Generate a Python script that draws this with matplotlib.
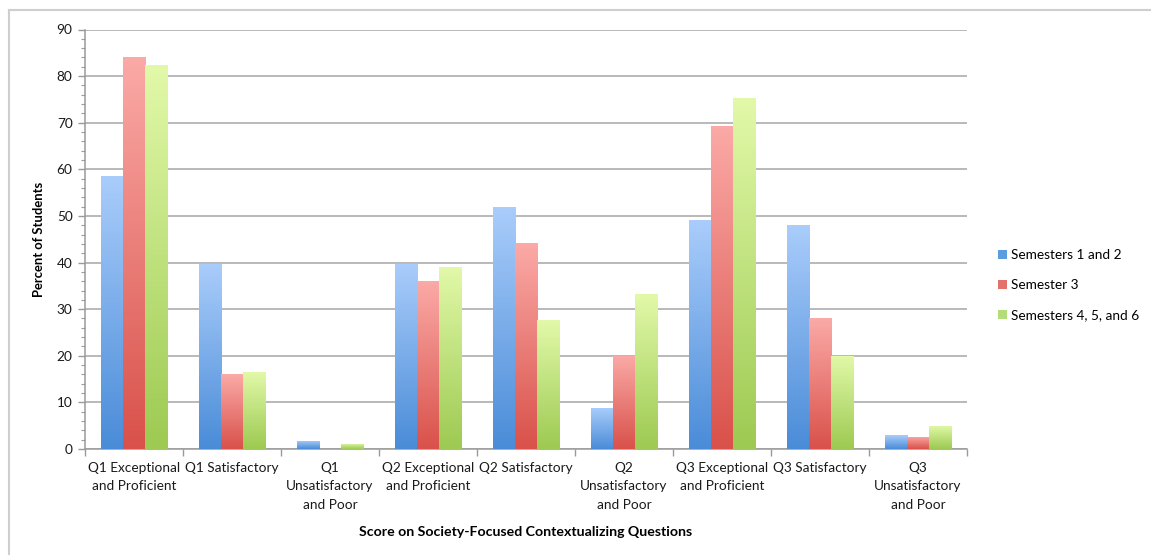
import numpy as np
import matplotlib
matplotlib.use("Agg")
import matplotlib.pyplot as plt
from matplotlib.colors import LinearSegmentedColormap
from matplotlib.lines import Line2D
from matplotlib.patches import Patch

plt.rcParams['font.family'] = ['Lato', 'DejaVu Sans']

categories = [
    "Q1 Exceptional\nand Proficient",
    "Q1 Satisfactory",
    "Q1\nUnsatisfactory\nand Poor",
    "Q2 Exceptional\nand Proficient",
    "Q2 Satisfactory",
    "Q2\nUnsatisfactory\nand Poor",
    "Q3 Exceptional\nand Proficient",
    "Q3 Satisfactory",
    "Q3\nUnsatisfactory\nand Poor",
]
series_names = ["Semesters 1 and 2", "Semester 3", "Semesters 4, 5, and 6"]
sem_1_2 = [58.6, 39.7, 1.8, 39.7, 52.0, 8.9, 49.1, 48.0, 3.0]
sem_3 = [84.0, 16.0, 0.0, 36.0, 44.1, 20.0, 69.4, 28.0, 2.6]
sem_4_5_6 = [82.3, 16.6, 1.1, 39.1, 27.6, 33.2, 75.3, 20.0, 5.0]
y_ticks = list(range(0, 91, 10))

series = [sem_1_2, sem_3, sem_4_5_6]
# (top colour, bottom colour) for each series' vertical gradient
gradients = [("#aacdfb", "#4a8cd8"), ("#fbaaa7", "#d9514a"), ("#e2f9a9", "#9dca52")]
legend_colors = ["#5b9be0", "#e4706b", "#b4dc78"]

fig = plt.figure(figsize=(11.51, 5.55), dpi=100)
ax = fig.add_axes([85 / 1151, 1 - 449 / 555, (967 - 85) / 1151, (449 - 29.5) / 555])

n = len(categories)
x = np.arange(n)
bar_w = 0.225
offsets = [-bar_w, 0.0, bar_w]

grad = np.linspace(0, 1, 256).reshape(-1, 1)
for vals, off, (top, bottom) in zip(series, offsets, gradients):
    cmap = LinearSegmentedColormap.from_list("g", [bottom, top])
    bars = ax.bar(x + off, vals, width=bar_w, color="none", edgecolor="none", zorder=3)
    for b in bars:
        h = b.get_height()
        if h <= 0:
            continue
        x0 = b.get_x()
        im = ax.imshow(grad, cmap=cmap, aspect="auto", origin="lower",
                       extent=[x0, x0 + b.get_width(), 0, h], zorder=3,
                       interpolation="bilinear")
        im.set_clip_path(b)

ax.set_xlim(-0.5, n - 0.5)
ax.set_ylim(0, 90)

ax.set_yticks(y_ticks)
ax.set_yticks(np.arange(0, 91, 2), minor=True)
ax.yaxis.grid(True, which="major", color="#b3b3b3", linewidth=1.3, zorder=0)
ax.set_axisbelow(True)

ax.set_xticks(x)
ax.set_xticklabels(categories, fontsize=9.8, linespacing=1.68, color="#1a1a1a")
ax.set_xticks(np.arange(-0.5, n, 1.0), minor=True)
ax.tick_params(axis="x", which="major", length=0, pad=9)
ax.tick_params(axis="x", which="minor", length=5, direction="out", color="#9a9a9a", width=1)
ax.tick_params(axis="y", which="major", length=5, direction="out", color="#9a9a9a",
               width=1, pad=4, labelsize=9.8, labelcolor="#1a1a1a")
ax.tick_params(axis="y", which="minor", length=3, direction="out", color="#9a9a9a", width=0.8)

for s in ["top", "right"]:
    ax.spines[s].set_visible(False)
for s in ["left", "bottom"]:
    ax.spines[s].set_color("#9a9a9a")
    ax.spines[s].set_linewidth(1.1)

ax.set_ylabel("Percent of Students", fontsize=9.4, fontweight="bold")
ax.yaxis.set_label_coords(-40 / 882, 0.5)
ax.set_xlabel("Score on Society-Focused Contextualizing Questions", fontsize=10.2,
              fontweight="bold")
ax.xaxis.set_label_coords(0.5, -(526 - 449) / 419.5)

handles = [Patch(facecolor=c, edgecolor="none") for c in legend_colors]
fig.legend(handles, series_names, loc="upper left",
           bbox_to_anchor=(993 / 1151, 1 - 244 / 555), frameon=False,
           fontsize=9.8, handlelength=0.65, handleheight=0.65, handletextpad=0.3,
           labelspacing=1.3, borderaxespad=0)

# chart-area frame
fig.add_artist(Line2D([9 / 1151, 1], [1 - 10 / 555, 1 - 10 / 555], color="#cfcfcf",
                      linewidth=1.5, transform=fig.transFigure))
fig.add_artist(Line2D([9 / 1151, 9 / 1151], [0, 1 - 10 / 555], color="#cfcfcf",
                      linewidth=1.5, transform=fig.transFigure))

fig.savefig("out.png", dpi=100)
